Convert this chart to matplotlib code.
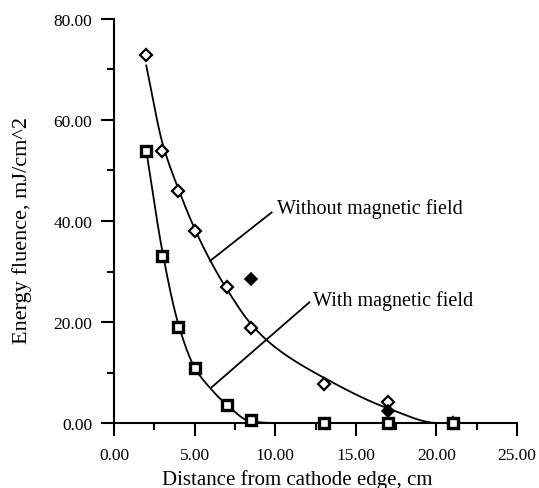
import numpy as np
import matplotlib
matplotlib.use("Agg")
import matplotlib.pyplot as plt
from matplotlib.ticker import MultipleLocator, FormatStrFormatter

plt.rcParams.update({
    'font.family': 'serif',
    'font.serif': ['Liberation Serif', 'DejaVu Serif'],
    'axes.linewidth': 1.5,
})

# --- data ---
dist_without = [2.0, 3.0, 4.0, 5.0, 7.0, 8.5, 13.0, 17.0, 21.0]
fluence_without = [72.9, 53.9, 45.9, 38.0, 26.9, 18.9, 7.8, 4.2, 0.0]

dist_with = [2.0, 3.0, 4.0, 5.0, 7.0, 8.5, 13.0, 17.0, 21.0]
fluence_with = [53.9, 33.0, 19.1, 10.9, 3.6, 0.6, 0.0, 0.0, 0.0]

# filled diamonds (extra measurements)
dist_extra = [8.5, 17.0]
fluence_extra = [28.5, 2.4]

# fitted curves (knots)
fit_without_x = [2.0, 3.0, 4.0, 5.0, 6.0, 7.0, 8.5, 10.0, 13.0, 17.0, 20.1, 21.0]
fit_without_y = [70.8, 55.5, 46.3, 38.5, 32.0, 26.5, 19.6, 15.0, 9.0, 2.9, 0.0, 0.0]

fit_with_x = [2.0, 3.0, 4.0, 5.0, 6.0, 7.0, 8.5, 10.0, 21.0]
fit_with_y = [54.0, 34.0, 19.5, 11.0, 6.8, 3.6, 0.3, 0.0, 0.0]


def pchip(x, y, xs):
    # monotone cubic interpolation, just for drawing the smooth fit line
    x = np.asarray(x, float)
    y = np.asarray(y, float)
    h = np.diff(x)
    d = np.diff(y) / h
    m = np.zeros_like(y)
    for k in range(1, len(x) - 1):
        if d[k - 1] * d[k] > 0:
            w1 = 2 * h[k] + h[k - 1]
            w2 = h[k] + 2 * h[k - 1]
            m[k] = (w1 + w2) / (w1 / d[k - 1] + w2 / d[k])
    m[0] = d[0]
    m[-1] = d[-1]
    i = np.clip(np.searchsorted(x, xs) - 1, 0, len(h) - 1)
    t = (xs - x[i]) / h[i]
    h00 = 2 * t**3 - 3 * t**2 + 1
    h10 = t**3 - 2 * t**2 + t
    h01 = -2 * t**3 + 3 * t**2
    h11 = t**3 - t**2
    return h00 * y[i] + h10 * h[i] * m[i] + h01 * y[i + 1] + h11 * h[i] * m[i + 1]


fig = plt.figure(figsize=(5.39, 4.89), dpi=100)
ax = fig.add_axes([114 / 539, 65 / 489, 403 / 539, 404 / 489])

xs = np.linspace(2.0, 21.0, 600)
ax.plot(xs, pchip(fit_without_x, fit_without_y, xs), color='black', lw=1.3, zorder=2)
ax.plot(xs, pchip(fit_with_x, fit_with_y, xs), color='black', lw=1.3, zorder=2)

ax.plot(dist_without, fluence_without, linestyle='none', marker='D', ms=6.3,
        mfc='white', mec='black', mew=1.6, zorder=3, clip_on=False)
ax.plot(dist_extra, fluence_extra, linestyle='none', marker='D', ms=6.3,
        mfc='black', mec='black', mew=1.2, zorder=3, clip_on=False)
ax.plot(dist_with, fluence_with, linestyle='none', marker='s', ms=7.3,
        mfc='white', mec='black', mew=2.4, zorder=4, clip_on=False)

# leader lines + labels
ax.plot([5.96, 9.78], [32.1, 41.7], color='black', lw=1.3)
ax.text(10.1, 41.6, 'Without magnetic field', fontsize=14.5, va='baseline', ha='left')
ax.plot([6.06, 12.12], [7.07, 23.9], color='black', lw=1.3)
ax.text(12.37, 23.4, 'With magnetic field', fontsize=14.5, va='baseline', ha='left')

ax.set_xlim(0, 25)
ax.set_ylim(0, 80)
ax.spines['top'].set_visible(False)
ax.spines['right'].set_visible(False)

ax.xaxis.set_major_locator(MultipleLocator(5))
ax.xaxis.set_minor_locator(MultipleLocator(2.5))
ax.yaxis.set_major_locator(MultipleLocator(20))
ax.yaxis.set_minor_locator(MultipleLocator(10))
ax.xaxis.set_major_formatter(FormatStrFormatter('%.2f'))
ax.yaxis.set_major_formatter(FormatStrFormatter('%.2f'))
ax.tick_params(which='major', direction='out', length=9.5, width=1.5, labelsize=12.5)
ax.tick_params(which='minor', direction='out', length=5, width=1.5)
ax.tick_params(axis='x', which='major', pad=8)
ax.tick_params(axis='y', which='major', pad=6)

ax.set_xlabel('Distance from cathode edge, cm', fontsize=15)
ax.xaxis.set_label_coords(0.454, -0.114)
ax.set_ylabel('Energy fluence, mJ/cm^2', fontsize=16)
ax.yaxis.set_label_coords(-0.203, 0.478)

fig.savefig('out.png', dpi=100)
